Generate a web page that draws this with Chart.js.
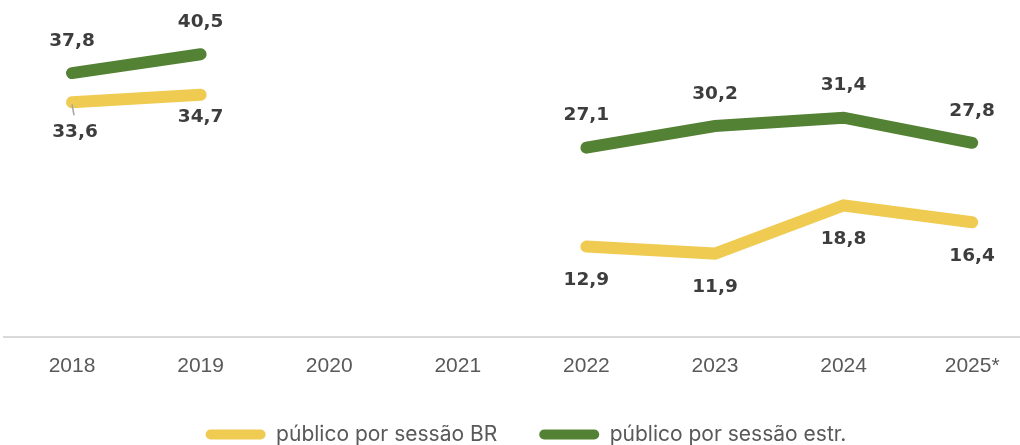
<!DOCTYPE html>
<html>
<head>
<meta charset="utf-8">
<script src="https://cdn.jsdelivr.net/npm/chart.js@4"></script>
<style>
  html, body { margin: 0; padding: 0; background: #fff; }
  #wrap { width: 1020px; height: 445px; position: relative; }
</style>
</head>
<body>
<div id="wrap"><canvas id="chart"></canvas></div>
<script>
// data
const years = ['2018', '2019', '2020', '2021', '2022', '2023', '2024', '2025*'];
const publicoBR = [33.6, 34.7, null, null, 12.9, 11.9, 18.8, 16.4];
const publicoEstr = [37.8, 40.5, null, null, 27.1, 30.2, 31.4, 27.8];
const seriesNames = ['público por sessão BR', 'público por sessão estr.'];

const YELLOW = '#F0CB51';
const GREEN = '#548235';

const toPoints = arr => arr.map((v, i) => ({ x: i, y: v }));
const fmt = v => v.toFixed(1).replace('.', ',');

// value labels above (green) / below (yellow) each point
const valueLabels = {
  id: 'valueLabels',
  afterLayout(chart) {
    // legend sits a little right of centre in the original
    if (chart.legend) { chart.legend.left += 14; chart.legend.right += 14; }
  },
  afterDatasetsDraw(chart) {
    const ctx = chart.ctx;
    ctx.save();
    ctx.font = 'bold 18.5px "DejaVu Sans", sans-serif';
    ctx.fillStyle = '#3d3d3d';
    ctx.textAlign = 'center';
    ctx.textBaseline = 'middle';
    chart.data.datasets.forEach((ds, di) => {
      const meta = chart.getDatasetMeta(di);
      meta.data.forEach((pt, i) => {
        const v = ds.data[i].y;
        if (v == null) return;
        let dy = ds.labelOffset;
        let dx = 0;
        if (di === 0 && i === 1) dy = 23;
        if (di === 0 && i === 0) { dy = 30; dx = 3; }
        ctx.fillText(fmt(v), pt.x + dx, pt.y + dy);
      });
    });
    // small leader line for the first BR label
    const p0 = chart.getDatasetMeta(0).data[0];
    ctx.strokeStyle = '#a6a6a6';
    ctx.lineWidth = 1.5;
    ctx.beginPath();
    ctx.moveTo(p0.x, p0.y + 2);
    ctx.lineTo(p0.x + 2, p0.y + 13);
    ctx.stroke();
    ctx.restore();
  }
};

new Chart(document.getElementById('chart'), {
  type: 'line',
  data: {
    datasets: [
      { label: seriesNames[0], data: toPoints(publicoBR), borderColor: YELLOW, backgroundColor: YELLOW, labelOffset: 34 },
      { label: seriesNames[1], data: toPoints(publicoEstr), borderColor: GREEN, backgroundColor: GREEN, labelOffset: -32 }
    ]
  },
  options: {
    responsive: true,
    maintainAspectRatio: false,
    animation: false,
    spanGaps: false,
    layout: { padding: { top: 2, left: 4, right: 0, bottom: -10 } },
    elements: {
      line: { borderWidth: 12, borderCapStyle: 'round', borderJoinStyle: 'miter', tension: 0 },
      point: { radius: 0, hoverRadius: 0 }
    },
    scales: {
      x: {
        type: 'linear',
        min: -0.529,
        max: 7.372,
        grid: { display: false, tickLength: 14.5 },
        border: { display: true, color: '#d9d9d9', width: 2 },
        afterBuildTicks: scale => { scale.ticks = years.map((_, i) => ({ value: i })); },
        ticks: {
          autoSkip: false,
          maxRotation: 0,
          padding: 2.9,
          color: '#595959',
          font: { family: '"Liberation Sans", Arial, sans-serif', size: 21 },
          callback: v => years[v]
        }
      },
      y: {
        display: false,
        min: 0,
        max: 48
      }
    },
    plugins: {
      tooltip: { enabled: false },
      legend: {
        position: 'bottom',
        labels: {
          boxWidth: 60,
          boxHeight: 10,
          useBorderRadius: true,
          borderRadius: 5,
          padding: 42,
          color: '#595959',
          font: { family: 'Inter, "Open Sans", sans-serif', size: 21 },
          generateLabels: chart => Chart.defaults.plugins.legend.labels.generateLabels(chart)
            .map(item => Object.assign(item, { lineWidth: 0, strokeStyle: 'transparent' }))
        }
      }
    }
  },
  plugins: [valueLabels]
});
</script>
</body>
</html>
